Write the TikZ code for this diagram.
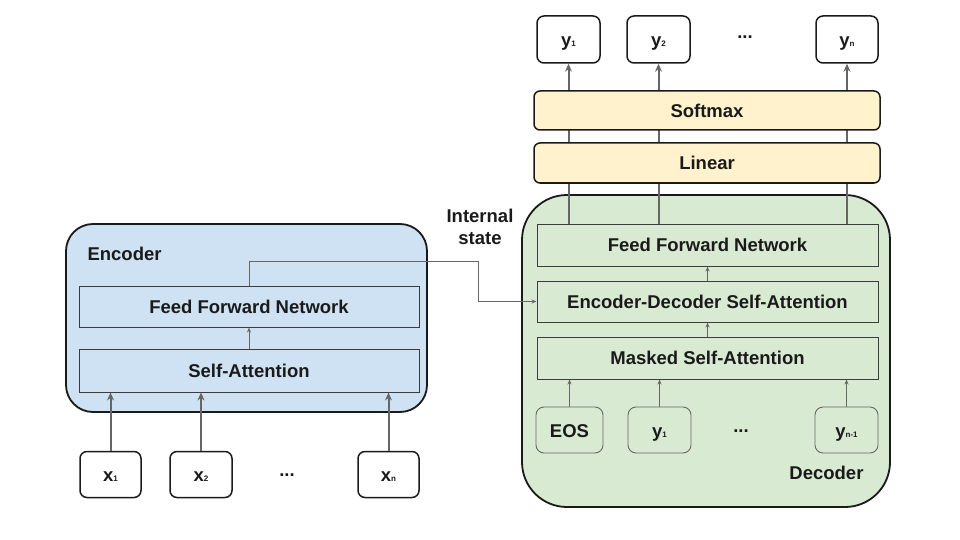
\documentclass[tikz,border=0pt]{standalone}
\usepackage{fontspec}
\setmainfont{Liberation Sans}
\usetikzlibrary{arrows.meta}
\definecolor{encblue}{HTML}{CFE2F3}
\definecolor{decgreen}{HTML}{D9EAD3}
\definecolor{headyellow}{HTML}{FFF2CC}
\definecolor{wiregray}{HTML}{666666}
\definecolor{inkblack}{HTML}{1A1A1A}
\def\tokname#1#2{#1{\fontsize{8}{8}\selectfont #2}}
\tikzset{
	lbl/.style={font=\fontsize{18.5}{22}\selectfont\bfseries, text=inkblack},
	outer/.style={draw=inkblack, line width=1.8pt, inner sep=0pt},
	layer/.style={lbl, draw=inkblack!85, line width=1pt, inner sep=0pt, minimum width=340pt},
	token/.style={lbl, draw=inkblack, line width=1.5pt, fill=white, rounded corners=7pt, inner sep=0pt, text height=14pt, text depth=0pt, minimum width=62pt, minimum height=46pt},
	intoken/.style={lbl, draw=wiregray, line width=0.9pt, fill=decgreen, rounded corners=8pt, inner sep=0pt, text height=14pt, text depth=0pt, minimum width=64pt, minimum height=46pt},
	headbox/.style={lbl, draw=inkblack, line width=1.5pt, fill=headyellow, rounded corners=6pt, inner sep=0pt, minimum width=346pt, minimum height=39pt},
	thickarrow/.style={draw=wiregray, line width=2pt, -{Stealth[length=8pt,width=7pt]}},
	thinarrow/.style={draw=wiregray, line width=0.9pt, -{Stealth[length=5pt,width=4pt]}},
}

\begin{document}
\begin{tikzpicture}[x=1pt,y=-1pt]
			%%%%% START %%%%%
			\useasboundingbox (0,0) rectangle (960,540);
			
			% encoder
			\node[outer, fill=encblue, rounded corners=27pt, minimum width=361pt, minimum height=188pt] (enc) at (246.5,318) {};
			\node[lbl, anchor=west] (enclabel) at (84,254) {Encoder};
			\node[layer, fill=encblue, minimum height=41pt] (encffn) at (249,306.5) {Feed Forward Network};
			\node[layer, fill=encblue, minimum height=43pt] (encsa) at (249,370.5) {Self-Attention};
			
			\node[token, minimum width=61pt] (x1) at (110.5,474.5) {\tokname{x}{1}};
			\node[token] (x2) at (201,474.5) {\tokname{x}{2}};
			\node[token, minimum width=61pt] (xn) at (388.5,474.5) {\tokname{x}{n}};
			\node[lbl] (xdots) at (287,475.5) {...};
			
			\draw[thickarrow] (x1.north) -- (encsa.south -| x1);
			\draw[thickarrow] (x2.north) -- (encsa.south -| x2);
			\draw[thickarrow] (xn.north) -- (encsa.south -| xn);
			\draw[thinarrow] (encsa.north) -- (encffn.south);
			
			% decoder
			\node[outer, fill=decgreen, rounded corners=45pt, minimum width=368pt, minimum height=312pt] (dec) at (706,351) {};
			\node[lbl, anchor=east] (declabel) at (867,473) {Decoder};
			\node[layer, fill=decgreen, minimum width=341pt, minimum height=42pt] (decffn) at (707.5,245) {Feed Forward Network};
			\node[layer, fill=decgreen, minimum width=341pt, minimum height=41pt] (ed) at (707.5,301.5) {Encoder-Decoder Self-Attention};
			\node[layer, fill=decgreen, minimum width=341pt, minimum height=42pt] (masked) at (707.5,358) {Masked Self-Attention};
			
			\node[intoken, minimum width=67pt] (eos) at (569.5,430) {EOS};
			\node[intoken, minimum width=63pt] (iny1) at (659.5,430) {\tokname{y}{1}};
			\node[intoken, minimum width=63pt] (inyn) at (846.5,430) {\tokname{y}{n-1}};
			\node[lbl] (indots) at (741,431) {...};
			
			\draw[thinarrow] (eos.north) -- (masked.south -| eos);
			\draw[thinarrow] (iny1.north) -- (masked.south -| iny1);
			\draw[thinarrow] (inyn.north) -- (masked.south -| inyn);
			\draw[thinarrow] (masked.north) -- (ed.south);
			\draw[thinarrow] (ed.north) -- (decffn.south);
			
			% internal state
			\node[lbl, align=center] (state) at (480,227) {Internal\\state};
			\coordinate (bend) at (478,261);
			\draw[thinarrow] (encffn.north) |- (bend) |- (ed.west);
			
			% outputs
			\node[token, minimum width=63pt, minimum height=47pt] (outy1) at (568.5,39.5) {\tokname{y}{1}};
			\node[token, minimum width=63pt, minimum height=47pt] (outy2) at (658.5,39.5) {\tokname{y}{2}};
			\node[token, minimum height=47pt] (outyn) at (847,39.5) {\tokname{y}{n}};
			\node[lbl] (outdots) at (745,37.5) {...};
			
			\draw[thickarrow] (decffn.north -| outy1) -- (outy1.south);
			\draw[thickarrow] (decffn.north -| outy2) -- (outy2.south);
			\draw[thickarrow] (decffn.north -| outyn) -- (outyn.south);
			
			\node[headbox, minimum height=40pt] (linear) at (707,163) {Linear};
			\node[headbox] (softmax) at (707,110.5) {Softmax};
			
			%%%%% END %%%%%
\end{tikzpicture}
\end{document}
